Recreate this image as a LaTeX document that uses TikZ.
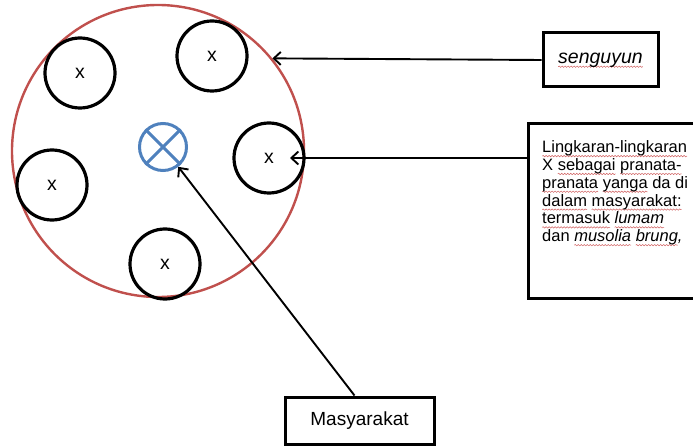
\documentclass[tikz,border=0pt]{standalone}
\usepackage{fontspec}
\setmainfont{Liberation Sans}
\usetikzlibrary{arrows.meta,decorations.pathmorphing}
\definecolor{ringred}{HTML}{C0504D}
\definecolor{ringblue}{HTML}{4F81BD}
\definecolor{spellred}{HTML}{D06060}
\newsavebox\sqbox
\newdimen\sqwd
\newcommand\sqw[1]{\sbox\sqbox{#1}\sqwd=\wd\sqbox\leavevmode\rlap{\tikz[overlay,baseline=0pt]\draw[spellred, line width=0.5pt, decorate, decoration={snake, segment length=3pt, amplitude=0.7pt}] (0pt,-3.5pt) -- (\sqwd,-3.5pt);}\usebox\sqbox}
\begin{document}
\begin{tikzpicture}[x=1pt,y=-1pt,
  member/.style={circle, draw=black, line width=3.2pt, minimum size=70pt, inner sep=0pt,
    font=\fontsize{19.5}{22}\selectfont},
  labelbox/.style={draw=black, line width=3pt, inner sep=0pt},
  arr/.style={-{Straight Barb[length=7pt,width=13pt]}, line width=1.9pt}]
\useasboundingbox (0,0) rectangle (693,446);
% society ring
\node[circle, draw=ringred, line width=2.4pt, minimum size=292pt, inner sep=0pt] (soc) at (158,151) {};
% member institutions
\node[member] (m1) at (80,73) {x};
\node[member] (m2) at (212,56) {x};
\node[member] (m3) at (269,158) {x};
\node[member] (m4) at (52,185) {x};
\node[member] (m5) at (165,264) {x};
% hub
\node[circle, draw=ringblue, line width=3pt, minimum size=47pt, inner sep=0pt] (hub) at (163,147) {};
\draw[ringblue, line width=3pt] (hub.45) -- (hub.225) (hub.135) -- (hub.315);
% boxes
\node[labelbox, minimum width=115pt, minimum height=54pt, font=\fontsize{19.5}{22}\selectfont\itshape] (seng) at (600.5,60) {\sqw{senguyun}};
\node[labelbox, minimum width=172pt, minimum height=174pt] (ling) at (614,211) {};
\node[anchor=north west, inner sep=0pt, align=left, font=\fontsize{16.5}{17.8}\selectfont] (lingtxt) at (542,140.5)
  {\sqw{Lingkaran-lingkaran}\\
   X \sqw{sebagai} \sqw{pranata-}\\
   \sqw{pranata} \sqw{yanga} da di\\
   \sqw{dalam} \sqw{masyarakat:}\\
   \sqw{termasuk} \textit{\sqw{lumam}}\\
   dan \textit{\sqw{musolia} \sqw{brung},}};
\node[labelbox, minimum width=149pt, minimum height=47pt, font=\fontsize{19}{22}\selectfont] (masy) at (359.5,420.5) {Masyarakat};
% connectors
\draw[arr] (seng.west) -- (soc.39);
\draw[arr, shorten >=21pt] (ling.west |- m3.center) -- (m3.center);
\draw[arr] ([xshift=-5pt]masy.north) -- (hub);
\end{tikzpicture}
\end{document}
